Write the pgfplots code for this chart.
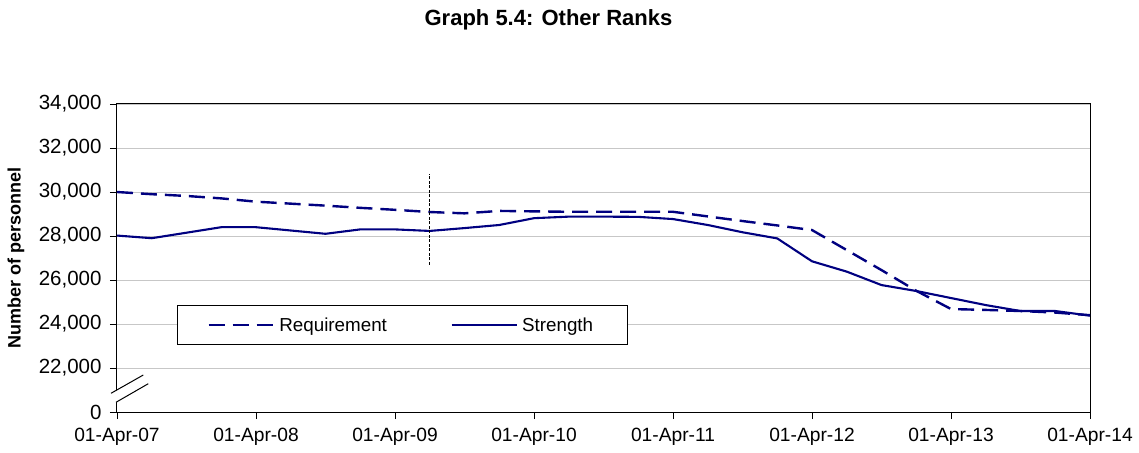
\documentclass[border=0pt]{standalone}
\usepackage{fontspec}
\setmainfont{Liberation Sans}
\usepackage{pgfplots}
\usepackage{pgfplotstable}
\pgfplotsset{compat=1.18}
\definecolor{navy}{RGB}{0,0,128}
\pgfplotstableread{
q req str
0 30000 28020
1 29900 27900
2 29820 28150
3 29710 28400
4 29560 28400
5 29470 28250
6 29380 28100
7 29280 28300
8 29190 28300
9 29090 28230
10 29030 28360
11 29140 28500
12 29120 28810
13 29100 28880
14 29100 28880
15 29100 28870
16 29100 28770
17 28890 28500
18 28680 28170
19 28480 27890
20 28270 26850
21 27360 26380
22 26450 25770
23 25510 25500
24 24680 25180
25 24640 24860
26 24590 24590
27 24520 24590
28 24400 24380
}\datatable
\begin{document}
\begin{tikzpicture}
\path[use as bounding box] (-117pt,-40pt) rectangle (1022pt,412pt);
\begin{axis}[
  at={(0pt,0pt)}, anchor=south west,
  scale only axis, width=973pt, height=308pt,
  xmin=0, xmax=28, ymin=20000, ymax=34000,
  scaled y ticks=false,
  xtick={0,4,...,28},
  xticklabels={01-Apr-07,01-Apr-08,01-Apr-09,01-Apr-10,01-Apr-11,01-Apr-12,01-Apr-13,01-Apr-14},
  ytick={20000,22000,...,34000},
  yticklabels={0,{22,000},{24,000},{26,000},{28,000},{30,000},{32,000},{34,000}},
  xtick pos=lower, ytick pos=left,
  tick align=outside, major tick length=7pt,
  tick style={black, line width=0.8pt},
  axis line style={black, line width=1pt},
  ymajorgrids, grid style={black!22, line width=0.9pt},
  xticklabel style={font=\fontsize{19.2}{23}\selectfont, yshift=-6pt},
  yticklabel style={font=\fontsize{20.5}{24}\selectfont, xshift=-5pt},
  clip=false,
  legend columns=2,
  legend style={at={(0.0617,0.347)}, anchor=north west, draw=black, line width=0.8pt,
    font=\fontsize{18.8}{22}\selectfont, inner xsep=30pt, inner ysep=9pt,
    nodes={inner xsep=4.5pt, inner ysep=3pt},
    /tikz/every even column/.append style={column sep=59pt}},
  legend image code/.code={\draw[#1] (0pt,0pt) -- (65pt,0pt);},
]
\addplot[navy, line width=2.4pt, dash pattern=on 16pt off 8pt] table[x=q, y=req] {\datatable};
\addlegendentry{Requirement}
\addplot[navy, line width=2.1pt] table[x=q, y=str] {\datatable};
\addlegendentry{Strength}
\addplot[black, line width=1.3pt, dash pattern=on 3pt off 1.5pt, forget plot] coordinates {(9,26700) (9,30800)};
\end{axis}
\fill[white] (-6pt,18.7pt) -- (26.3pt,37pt) -- (31.3pt,28.3pt) -- (-1pt,9.7pt) -- cycle;
\draw[black, line width=1pt] (-6pt,18.7pt) -- (26.3pt,37pt);
\draw[black, line width=1pt] (-1pt,9.7pt) -- (31.3pt,28.3pt);
\node[font=\fontsize{22}{26}\selectfont\bfseries, anchor=base] at (431.5pt,386pt) {Graph 5.4: Other Ranks};
\node[font=\fontsize{18}{22}\selectfont\bfseries, rotate=90] at (-101pt,154.5pt) {Number of personnel};
\end{tikzpicture}
\end{document}
